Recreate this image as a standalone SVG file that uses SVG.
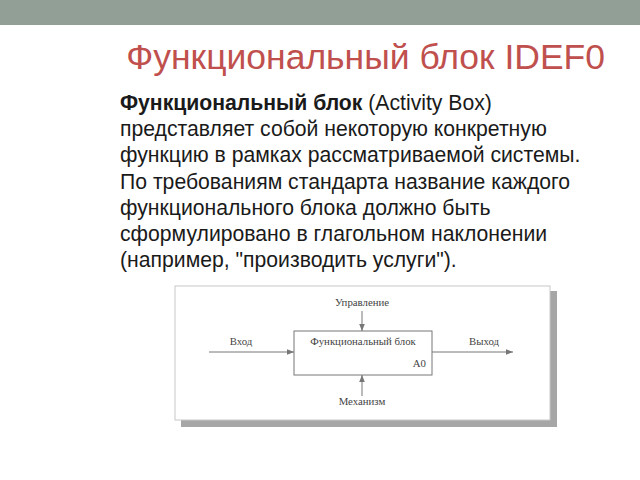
<svg xmlns="http://www.w3.org/2000/svg" width="640" height="480" viewBox="0 0 640 480">
<defs>
<style>
.title{font-family:"Liberation Sans",Arial,sans-serif;font-size:35.5px;fill:#c0504d}
.body{font-family:"Liberation Sans",Arial,sans-serif;font-size:21.2px;fill:#1a1a1a}
.lbl{font-family:"Liberation Serif","Times New Roman",serif;font-size:10.8px;fill:#444}
.ln{stroke:#777;stroke-width:1;fill:none}
</style>
<marker id="ah" viewBox="0 0 10 10" refX="10" refY="5" markerWidth="9" markerHeight="7" orient="auto" markerUnits="userSpaceOnUse">
<path d="M0,1 L10,5 L0,9 Z" fill="#777"/>
</marker>
</defs>
<rect x="0" y="0" width="640" height="480" fill="#ffffff"/>
<rect x="0" y="0" width="640" height="25" fill="#919f97"/>
<text class="title" x="605" y="69" text-anchor="end">Функциональный блок IDEF0</text>
<text class="body" x="120">
<tspan x="120" y="110"><tspan font-weight="bold">Функциональный блок</tspan> (Activity Box)</tspan>
<tspan x="120" y="136">представляет собой некоторую конкретную</tspan>
<tspan x="120" y="162">функцию в рамках рассматриваемой системы.</tspan>
<tspan x="120" y="189">По требованиям стандарта название каждого</tspan>
<tspan x="120" y="215">функционального блока должно быть</tspan>
<tspan x="120" y="241">сформулировано в глагольном наклонении</tspan>
<tspan x="120" y="267">(например, "производить услуги").</tspan>
</text>
<g id="frame">
<rect x="181" y="291" width="376" height="136" fill="#a6a6a6"/>
<rect x="175" y="286" width="375" height="134" fill="#ffffff" stroke="#c8c8c8" stroke-width="1"/>
</g>
<g id="block">
<rect x="294" y="331" width="138" height="44" fill="#ffffff" stroke="#777" stroke-width="1"/>
<text class="lbl" x="363" y="345" text-anchor="middle">Функциональный блок</text>
<text class="lbl" x="426" y="367" text-anchor="end">A0</text>
</g>
<g id="connectors">
<line class="ln" x1="209" y1="352" x2="294" y2="352" marker-end="url(#ah)"/>
<line class="ln" x1="432" y1="352" x2="513" y2="352" marker-end="url(#ah)"/>
<line class="ln" x1="362" y1="311" x2="362" y2="331" marker-end="url(#ah)"/>
<line class="ln" x1="362" y1="396" x2="362" y2="375" marker-end="url(#ah)"/>
</g>
<g id="labels">
<text class="lbl" x="241" y="345" text-anchor="middle">Вход</text>
<text class="lbl" x="484" y="345" text-anchor="middle">Выход</text>
<text class="lbl" x="362" y="306" text-anchor="middle">Управление</text>
<text class="lbl" x="362" y="405" text-anchor="middle">Механизм</text>
</g>
</svg>
